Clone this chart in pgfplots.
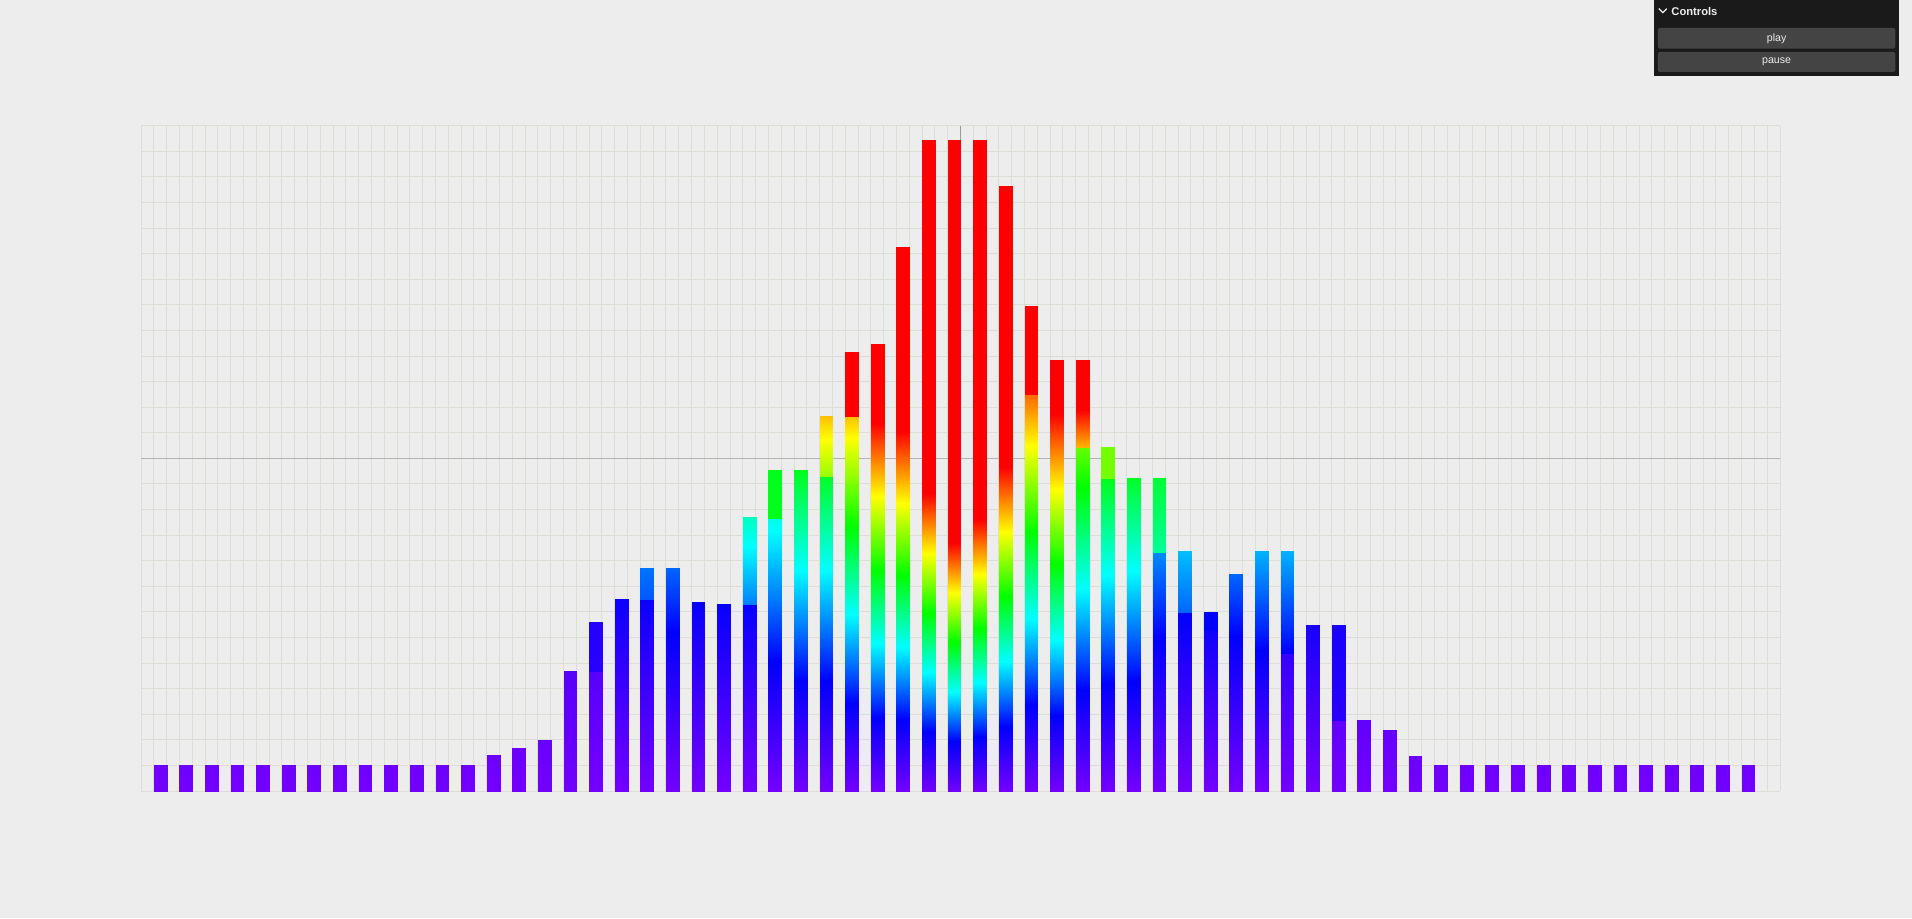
\documentclass[border=0pt]{standalone}
\usepackage{pgfplots}
\pgfplotsset{compat=1.18}
\usepackage{fontspec}
\setmainfont{Liberation Sans}
\definecolor{bgc}{RGB}{237,237,237}
\definecolor{gridc}{RGB}{222,222,215}
\definecolor{axisc}{RGB}{178,178,178}
\definecolor{panel}{RGB}{26,26,26}
\definecolor{button}{RGB}{68,68,68}
\pgfplotsset{colormap={bars}{rgb255=(115,0,255) rgb255=(0,0,255) rgb255=(0,255,255)
  rgb255=(0,255,0) rgb255=(255,255,0) rgb255=(255,0,0)}}

\begin{document}
\begin{tikzpicture}
% background (1 px = 0.5pt, axis origin at px (141,791))
\fill[bgc] (-70.5pt,-63.5pt) rectangle (885.5pt,395.5pt);
\begin{axis}[
  at={(0,0)}, anchor=south west,
  scale only axis, width=819.5pt, height=332.65pt,
  xmin=0, xmax=64, ymin=0, ymax=26,
  axis line style={draw=none},
  xtick distance=0.5, ytick distance=1,
  xticklabels={}, yticklabels={},
  major tick length=0pt,
  grid=major, grid style={gridc, line width=0.5pt},
  colormap name=bars, point meta min=0, point meta max=5,
]
\addplot[axisc, line width=0.6pt, no marks] coordinates {(0,13) (64,13)};
\addplot[black!40, line width=0.6pt, no marks] coordinates {(32,0) (32,26)};

% each line: one rectangle of a bar, 4 vertices (x y meta)
\addplot[patch, patch type=rectangle, shader=interp, point meta=\thisrow{c}]
  table[row sep=\\] {
x y c\\
0.5 0 0\\ 1 0 0\\ 1 1 0.05\\ 0.5 1 0.05\\
1.5 0 0\\ 2 0 0\\ 2 1 0.05\\ 1.5 1 0.05\\
2.5 0 0\\ 3 0 0\\ 3 1 0.05\\ 2.5 1 0.05\\
3.5 0 0\\ 4 0 0\\ 4 1 0.05\\ 3.5 1 0.05\\
4.5 0 0\\ 5 0 0\\ 5 1 0.05\\ 4.5 1 0.05\\
5.5 0 0\\ 6 0 0\\ 6 1 0.05\\ 5.5 1 0.05\\
6.5 0 0\\ 7 0 0\\ 7 1 0.05\\ 6.5 1 0.05\\
7.5 0 0\\ 8 0 0\\ 8 1 0.05\\ 7.5 1 0.05\\
8.5 0 0\\ 9 0 0\\ 9 1 0.05\\ 8.5 1 0.05\\
9.5 0 0\\ 10 0 0\\ 10 1 0.05\\ 9.5 1 0.05\\
10.5 0 0\\ 11 0 0\\ 11 1 0.05\\ 10.5 1 0.05\\
11.5 0 0\\ 12 0 0\\ 12 1 0.05\\ 11.5 1 0.05\\
12.5 0 0\\ 13 0 0\\ 13 1 0.05\\ 12.5 1 0.05\\
13.5 0 0\\ 14 0 0\\ 14 1.40 0.07\\ 13.5 1.40 0.07\\
14.5 0 0\\ 15 0 0\\ 15 1.69 0.08\\ 14.5 1.69 0.08\\
15.5 0 0\\ 16 0 0\\ 16 2.00 0.1\\ 15.5 2.00 0.1\\
16.5 0 0\\ 17 0 0\\ 17 4.69 0.25\\ 16.5 4.69 0.25\\
17.5 0 0\\ 18 0 0\\ 18 4.69 0.25\\ 17.5 4.69 0.25\\
17.5 4.69 0.65\\ 18 4.69 0.65\\ 18 6.61 0.7\\ 17.5 6.61 0.7\\
18.5 0 0\\ 19 0 0\\ 19 7.49 0.9\\ 18.5 7.49 0.9\\
19.5 0 0\\ 20 0 0\\ 20 7.49 0.9\\ 19.5 7.49 0.9\\
19.5 7.49 1.35\\ 20 7.49 1.35\\ 20 8.70 1.45\\ 19.5 8.70 1.45\\
20.5 0 0\\ 21 0 0\\ 21 8.70 1.4\\ 20.5 8.70 1.4\\
21.5 0 0\\ 22 0 0\\ 22 7.40 0.95\\ 21.5 7.40 0.95\\
22.5 0 0\\ 23 0 0\\ 23 7.30 0.95\\ 22.5 7.30 0.95\\
23.5 0 0\\ 24 0 0\\ 24 7.30 0.95\\ 23.5 7.30 0.95\\
23.5 7.30 1.5\\ 24 7.30 1.5\\ 24 10.71 2.25\\ 23.5 10.71 2.25\\
24.5 0 0\\ 25 0 0\\ 25 10.65 2.1\\ 24.5 10.65 2.1\\
24.5 10.65 2.9\\ 25 10.65 2.9\\ 25 12.55 2.9\\ 24.5 12.55 2.9\\
25.5 0 0\\ 26 0 0\\ 26 12.55 2.9\\ 25.5 12.55 2.9\\
26.5 0 0\\ 27 0 0\\ 27 12.30 2.85\\ 26.5 12.30 2.85\\
26.5 12.30 3.6\\ 27 12.30 3.6\\ 27 14.64 4.25\\ 26.5 14.64 4.25\\
27.5 0 0\\ 28 0 0\\ 28 14.64 4.25\\ 27.5 14.64 4.25\\
27.5 14.64 5\\ 28 14.64 5\\ 28 17.16 5\\ 27.5 17.16 5\\
28.5 0 0\\ 29 0 0\\ 29 14.40 5\\ 28.5 14.40 5\\
28.5 14.40 5\\ 29 14.40 5\\ 29 17.45 5\\ 28.5 17.45 5\\
29.5 0 0\\ 30 0 0\\ 30 14.05 5\\ 29.5 14.05 5\\
29.5 14.05 5\\ 30 14.05 5\\ 30 21.26 5\\ 29.5 21.26 5\\
30.5 0 0\\ 31 0 0\\ 31 11.60 5\\ 30.5 11.60 5\\
30.5 11.60 5\\ 31 11.60 5\\ 31 25.45 5\\ 30.5 25.45 5\\
31.5 0 0\\ 32 0 0\\ 32 9.70 5\\ 31.5 9.70 5\\
31.5 9.70 5\\ 32 9.70 5\\ 32 25.45 5\\ 31.5 25.45 5\\
32.5 0 0\\ 33 0 0\\ 33 10.60 5\\ 32.5 10.60 5\\
32.5 10.60 5\\ 33 10.60 5\\ 33 25.45 5\\ 32.5 25.45 5\\
33.5 0 0\\ 34 0 0\\ 34 12.65 5\\ 33.5 12.65 5\\
33.5 12.65 5\\ 34 12.65 5\\ 34 23.66 5\\ 33.5 23.66 5\\
34.5 0 0\\ 35 0 0\\ 35 15.53 4.6\\ 34.5 15.53 4.6\\
34.5 15.53 5\\ 35 15.53 5\\ 35 18.94 5\\ 34.5 18.94 5\\
35.5 0 0\\ 36 0 0\\ 36 14.75 5\\ 35.5 14.75 5\\
35.5 14.75 5\\ 36 14.75 5\\ 36 16.84 5\\ 35.5 16.84 5\\
36.5 0 0\\ 37 0 0\\ 37 13.44 3.4\\ 36.5 13.44 3.4\\
36.5 13.44 4.3\\ 37 13.44 4.3\\ 37 14.90 5\\ 36.5 14.90 5\\
36.5 14.90 5\\ 37 14.90 5\\ 37 16.84 5\\ 36.5 16.84 5\\
37.5 0 0\\ 38 0 0\\ 38 12.25 2.9\\ 37.5 12.25 2.9\\
37.5 12.25 3.45\\ 38 12.25 3.45\\ 38 13.44 3.45\\ 37.5 13.44 3.45\\
38.5 0 0\\ 39 0 0\\ 39 12.25 2.85\\ 38.5 12.25 2.85\\
39.5 0 0\\ 40 0 0\\ 40 9.34 1.55\\ 39.5 9.34 1.55\\
39.5 9.34 2.4\\ 40 9.34 2.4\\ 40 12.25 2.8\\ 39.5 12.25 2.8\\
40.5 0 0\\ 41 0 0\\ 41 6.99 1.0\\ 40.5 6.99 1.0\\
40.5 6.99 1.4\\ 41 6.99 1.4\\ 41 9.39 1.75\\ 40.5 9.39 1.75\\
41.5 0 0\\ 42 0 0\\ 42 6.28 0.85\\ 41.5 6.28 0.85\\
41.5 6.28 1.0\\ 42 6.28 1.0\\ 42 6.99 1.0\\ 41.5 6.99 1.0\\
42.5 0 0\\ 43 0 0\\ 43 8.50 1.4\\ 42.5 8.50 1.4\\
43.5 0 0\\ 44 0 0\\ 44 9.39 1.7\\ 43.5 9.39 1.7\\
44.5 0 0\\ 45 0 0\\ 45 5.40 0.55\\ 44.5 5.40 0.55\\
44.5 5.40 1.0\\ 45 5.40 1.0\\ 45 9.39 1.7\\ 44.5 9.39 1.7\\
45.5 0 0\\ 46 0 0\\ 46 6.48 0.8\\ 45.5 6.48 0.8\\
46.5 0 0\\ 47 0 0\\ 47 2.79 0.15\\ 46.5 2.79 0.15\\
46.5 2.79 0.65\\ 47 2.79 0.65\\ 47 6.48 0.8\\ 46.5 6.48 0.8\\
47.5 0 0\\ 48 0 0\\ 48 2.79 0.15\\ 47.5 2.79 0.15\\
48.5 0 0\\ 49 0 0\\ 49 2.40 0.12\\ 48.5 2.40 0.12\\
49.5 0 0\\ 50 0 0\\ 50 1.38 0.07\\ 49.5 1.38 0.07\\
50.5 0 0\\ 51 0 0\\ 51 1 0.05\\ 50.5 1 0.05\\
51.5 0 0\\ 52 0 0\\ 52 1 0.05\\ 51.5 1 0.05\\
52.5 0 0\\ 53 0 0\\ 53 1 0.05\\ 52.5 1 0.05\\
53.5 0 0\\ 54 0 0\\ 54 1 0.05\\ 53.5 1 0.05\\
54.5 0 0\\ 55 0 0\\ 55 1 0.05\\ 54.5 1 0.05\\
55.5 0 0\\ 56 0 0\\ 56 1 0.05\\ 55.5 1 0.05\\
56.5 0 0\\ 57 0 0\\ 57 1 0.05\\ 56.5 1 0.05\\
57.5 0 0\\ 58 0 0\\ 58 1 0.05\\ 57.5 1 0.05\\
58.5 0 0\\ 59 0 0\\ 59 1 0.05\\ 58.5 1 0.05\\
59.5 0 0\\ 60 0 0\\ 60 1 0.05\\ 59.5 1 0.05\\
60.5 0 0\\ 61 0 0\\ 61 1 0.05\\ 60.5 1 0.05\\
61.5 0 0\\ 62 0 0\\ 62 1 0.05\\ 61.5 1 0.05\\
62.5 0 0\\ 63 0 0\\ 63 1 0.05\\ 62.5 1 0.05\\
};
\end{axis}

% controls panel (top right)
\fill[panel] (756.5pt,357.5pt) rectangle (879pt,395.5pt);
\fill[button, rounded corners=0.8pt] (758.4pt,371.2pt) rectangle (877.2pt,381.5pt);
\fill[button, rounded corners=0.8pt] (758.4pt,359.5pt) rectangle (877.2pt,369.5pt);
\draw[white!92!black, line width=0.6pt] (758.9pt,391.2pt) -- (760.9pt,389.2pt) -- (762.9pt,391.2pt);
\node[anchor=base west, inner sep=0pt, text=white!93!black,
  font=\fontsize{5.6}{6}\selectfont\bfseries] at (765pt,388pt) {Controls};
\node[inner sep=0pt, text=white!93!black, font=\fontsize{5.3}{6}\selectfont]
  at (817.8pt,376.3pt) {play};
\node[inner sep=0pt, text=white!93!black, font=\fontsize{5.3}{6}\selectfont]
  at (817.8pt,364.5pt) {pause};
\end{tikzpicture}
\end{document}
